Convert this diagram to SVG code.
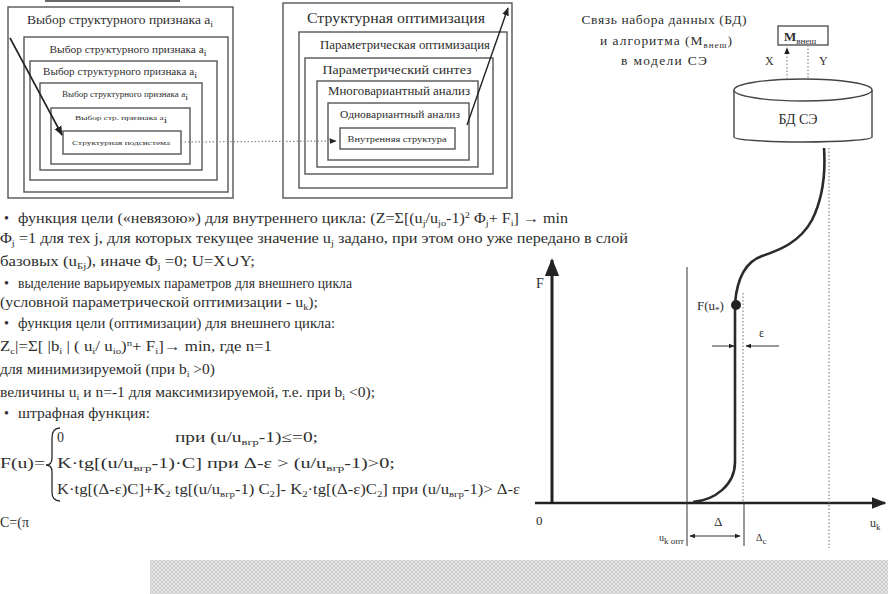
<svg xmlns="http://www.w3.org/2000/svg" width="888" height="594" viewBox="0 0 888 594">
<style>
text { font-family: "Liberation Serif", "DejaVu Serif", serif; fill: #2e2e2e; }
.t { font-size: 14px; }
.s { font-size: 9px; baseline-shift: -3px; }
.p { font-size: 9px; baseline-shift: 5px; }
.box { fill: none; stroke: #555; stroke-width: 1.4; }
.dot { stroke: #888; stroke-width: 1.2; stroke-dasharray: 1.5 2; fill: none; }
.ln { stroke: #2a2a2a; fill: none; }
.c { text-anchor: middle; }
</style>
<defs>
<marker id="ah" viewBox="0 0 10 10" refX="9" refY="5" markerWidth="6" markerHeight="6" orient="auto-start-reverse"><path d="M0,1 L10,5 L0,9 z" fill="#222"/></marker>
<pattern id="hatch" width="4" height="4" patternUnits="userSpaceOnUse"><rect width="4" height="4" fill="#e4e4e4"/><path d="M0,4 L4,0 M0,0 L4,4" stroke="#c8c8c8" stroke-width="0.8"/></pattern>
</defs>
<rect width="888" height="594" fill="#ffffff"/>
<line x1="45" y1="1" x2="180" y2="1" stroke="#666" stroke-width="2"/>

<g id="left-nest">
<rect class="box" x="8" y="7" width="225" height="191"/>
<rect class="box" x="24" y="37" width="204" height="155"/>
<rect class="box" x="30" y="61" width="187" height="119"/>
<rect class="box" x="40" y="83" width="162" height="87"/>
<rect class="box" x="51" y="108" width="139" height="56"/>
<rect class="box" x="63" y="131" width="118" height="23"/>
<text class="c" x="120" y="24" font-size="12.5" textLength="186" lengthAdjust="spacingAndGlyphs">Выбор структурного признака a<tspan class="s">i</tspan></text>
<text class="c" x="128" y="53" font-size="10.5" textLength="157" lengthAdjust="spacingAndGlyphs">Выбор структурного признака a<tspan class="s">i</tspan></text>
<text class="c" x="120" y="75" font-size="10" textLength="154" lengthAdjust="spacingAndGlyphs">Выбор структурного признака a<tspan class="s">i</tspan></text>
<text class="c" x="125" y="97" font-size="8" textLength="126" lengthAdjust="spacingAndGlyphs">Выбор структурного признака a<tspan class="s">i</tspan></text>
<text class="c" x="121" y="120" font-size="7" textLength="92" lengthAdjust="spacingAndGlyphs">Выбор стр. признака a<tspan class="s">i</tspan></text>
<text class="c" x="121" y="145" font-size="7" textLength="98" lengthAdjust="spacingAndGlyphs">Структурная подсистема</text>
</g>

<g id="mid-nest">
<rect class="box" x="283" y="3" width="229" height="195"/>
<rect class="box" x="299" y="32" width="208" height="156"/>
<rect class="box" x="305" y="58" width="188" height="116"/>
<rect class="box" x="317" y="81" width="161" height="86"/>
<rect class="box" x="328" y="103" width="141" height="57"/>
<rect class="box" x="340" y="128" width="115" height="21"/>
<text class="c" x="396" y="23" font-size="14" textLength="178" lengthAdjust="spacingAndGlyphs">Структурная оптимизация</text>
<text class="c" x="405" y="49" font-size="11.5" textLength="170" lengthAdjust="spacingAndGlyphs">Параметрическая оптимизация</text>
<text class="c" x="397" y="74" font-size="12" textLength="149" lengthAdjust="spacingAndGlyphs">Параметрический синтез</text>
<text class="c" x="399" y="95" font-size="11.5" textLength="142" lengthAdjust="spacingAndGlyphs">Многовариантный анализ</text>
<text class="c" x="400" y="118" font-size="10" textLength="120" lengthAdjust="spacingAndGlyphs">Одновариантный анализ</text>
<text class="c" x="397" y="142" font-size="9" textLength="99" lengthAdjust="spacingAndGlyphs">Внутренняя структура</text>
</g>

<g id="db-title">
<text class="c" x="664" y="24" font-size="13.5" textLength="165" lengthAdjust="spacing">Связь набора данных (БД)</text>
<text class="c" x="666" y="45" font-size="13.5" textLength="132" lengthAdjust="spacing">и алгоритма (M<tspan class="s">внеш</tspan>)</text>
<text class="c" x="664" y="65" font-size="13.5" textLength="86" lengthAdjust="spacing">в модели СЭ</text>
</g>

<g id="m-box">
<rect class="box" x="778" y="26" width="50" height="19"/>
<text x="784" y="41" font-size="13" font-weight="bold">M<tspan class="s" font-weight="normal">внеш</tspan></text>
<text x="765" y="65" font-size="12">X</text>
<text x="819" y="65" font-size="12">Y</text>
</g>

<g id="db">
<path d="M734,90 L734,137 A69,5 0 0,0 872,137 L872,90" fill="#fff" stroke="#444" stroke-width="1.4"/>
<ellipse cx="803" cy="90" rx="69" ry="11" fill="#fff" stroke="#444" stroke-width="1.4"/>
<text class="c" x="798" y="124" font-size="14">БД СЭ</text>
</g>

<g id="connectors">
<line x1="10" y1="38" x2="62" y2="135" stroke="#222" stroke-width="1.6" marker-end="url(#ah)"/>
<line x1="467" y1="125" x2="508" y2="8" stroke="#222" stroke-width="1.4" marker-end="url(#ah)"/>
<line class="dot" x1="181" y1="142" x2="336" y2="141" marker-end="url(#ah)"/>
<line class="dot" x1="787" y1="79" x2="787" y2="48" marker-end="url(#ah)"/>
<line class="dot" x1="808" y1="45" x2="808" y2="79"/>
</g>

<g id="chart">
<line x1="552" y1="503" x2="552" y2="260" stroke="#222" stroke-width="3" marker-end="url(#ah)"/>
<line x1="535" y1="503" x2="885" y2="503" stroke="#222" stroke-width="2.5" marker-end="url(#ah)"/>
<text x="536" y="288" font-size="14">F</text>
<text x="536" y="525" font-size="13">0</text>
<text x="870" y="527" font-size="12">u<tspan class="s">k</tspan></text>
<line x1="687" y1="267" x2="687" y2="546" stroke="#333" stroke-width="1"/>
<line class="dot" x1="743" y1="293" x2="743" y2="502"/>
<line class="dot" x1="829" y1="148" x2="829" y2="548"/>
<path d="M824,148 C826,178 822,200 812,220 C800,242 780,250 762,256 C745,262 737,280 735,303 L735,462 C735,485 715,500 693,502" class="ln" stroke-width="2.6"/>
<circle cx="736" cy="305" r="5" fill="#222"/>
<text x="697" y="310" font-size="13">F(u<tspan class="s">*</tspan>)</text>
<text x="759" y="337" font-size="12">ε</text>
<line x1="712" y1="346" x2="734" y2="346" stroke="#333" stroke-width="1" marker-end="url(#ah)"/>
<line x1="779" y1="346" x2="746" y2="346" stroke="#333" stroke-width="1" marker-end="url(#ah)"/>
<text x="714" y="526" font-size="13">Δ</text>
<line x1="690" y1="536" x2="740" y2="536" stroke="#333" stroke-width="1" marker-start="url(#ah)" marker-end="url(#ah)"/>
<line x1="744" y1="503" x2="744" y2="546" stroke="#333" stroke-width="1"/>
<text x="659" y="541" font-size="10">u<tspan class="s">k опт</tspan></text>
<text x="756" y="541" font-size="10">Δ<tspan class="s">c</tspan></text>
</g>

<g id="formulas">
<text class="t" x="4" y="223">•</text>
<text class="t" x="18" y="223" textLength="550" lengthAdjust="spacingAndGlyphs">функция цели («невязою») для внутреннего цикла: (Z=Σ[(u<tspan class="s">j</tspan>/u<tspan class="s">jo</tspan>-1)<tspan class="p">2</tspan> Φ<tspan class="s">j</tspan>+ F<tspan class="s">i</tspan>] → min</text>
<text class="t" x="0" y="243" textLength="628" lengthAdjust="spacingAndGlyphs">Φ<tspan class="s">j</tspan> =1 для тех j, для которых  текущее значение u<tspan class="s">j</tspan> задано, при этом оно уже передано в слой</text>
<text class="t" x="0" y="266" textLength="255" lengthAdjust="spacingAndGlyphs">базовых (u<tspan class="s">Бj</tspan>), иначе Φ<tspan class="s">j</tspan> =0; U=X∪Y;</text>
<text class="t" x="4" y="288">•</text>
<text class="t" x="18" y="288" textLength="334" lengthAdjust="spacingAndGlyphs">выделение варьируемых параметров для внешнего цикла</text>
<text class="t" x="0" y="307" textLength="318" lengthAdjust="spacingAndGlyphs">(условной параметрической оптимизации - u<tspan class="s">k</tspan>);</text>
<text class="t" x="4" y="328">•</text>
<text class="t" x="18" y="328" textLength="317" lengthAdjust="spacingAndGlyphs">функция цели (оптимизации) для внешнего цикла:</text>
<text class="t" x="0" y="351" textLength="272" lengthAdjust="spacingAndGlyphs">Z<tspan class="s">c</tspan>|=Σ[ |b<tspan class="s">i</tspan> | ( u<tspan class="s">i</tspan>/ u<tspan class="s">io</tspan>)<tspan class="p">n</tspan>+ F<tspan class="s">i</tspan>]→ min, где n=1</text>
<text class="t" x="0" y="374" textLength="215" lengthAdjust="spacingAndGlyphs">для минимизируемой (при b<tspan class="s">i</tspan> &gt;0)</text>
<text class="t" x="0" y="397" textLength="375" lengthAdjust="spacingAndGlyphs">величины u<tspan class="s">i</tspan> и n=-1 для максимизируемой, т.е. при b<tspan class="s">i</tspan> &lt;0);</text>
<text class="t" x="4" y="418">•</text>
<text class="t" x="18" y="418" textLength="132" lengthAdjust="spacingAndGlyphs">штрафная функция:</text>
<text class="t" x="57" y="442">0</text>
<text class="t" x="175" y="442" textLength="143" lengthAdjust="spacingAndGlyphs">при (u/u<tspan class="s">вгр</tspan>-1)≤=0;</text>
<text class="t" x="0" y="468" textLength="45" lengthAdjust="spacingAndGlyphs">F(u)=</text>
<path d="M60,428 Q52,428 52,438 L52,458 Q52,465 46,465 Q52,465 52,472 L52,492 Q52,501 60,501" class="ln" stroke-width="1.3"/>
<text class="t" x="57" y="468" textLength="338" lengthAdjust="spacingAndGlyphs">K·tg[(u/u<tspan class="s">вгр</tspan>-1)·C]   при Δ-ε &gt; (u/u<tspan class="s">вгр</tspan>-1)&gt;0;</text>
<text class="t" x="57" y="494" textLength="463" lengthAdjust="spacingAndGlyphs">K·tg[(Δ-ε)C]+K<tspan class="s">2</tspan> tg[(u/u<tspan class="s">вгр</tspan>-1) C<tspan class="s">2</tspan>]- K<tspan class="s">2</tspan>·tg[(Δ-ε)C<tspan class="s">2</tspan>] при  (u/u<tspan class="s">вгр</tspan>-1)&gt; Δ-ε</text>
<text class="t" x="0" y="527">C=(π</text>
</g>

<rect x="150" y="560" width="738" height="34" fill="url(#hatch)"/>
</svg>
